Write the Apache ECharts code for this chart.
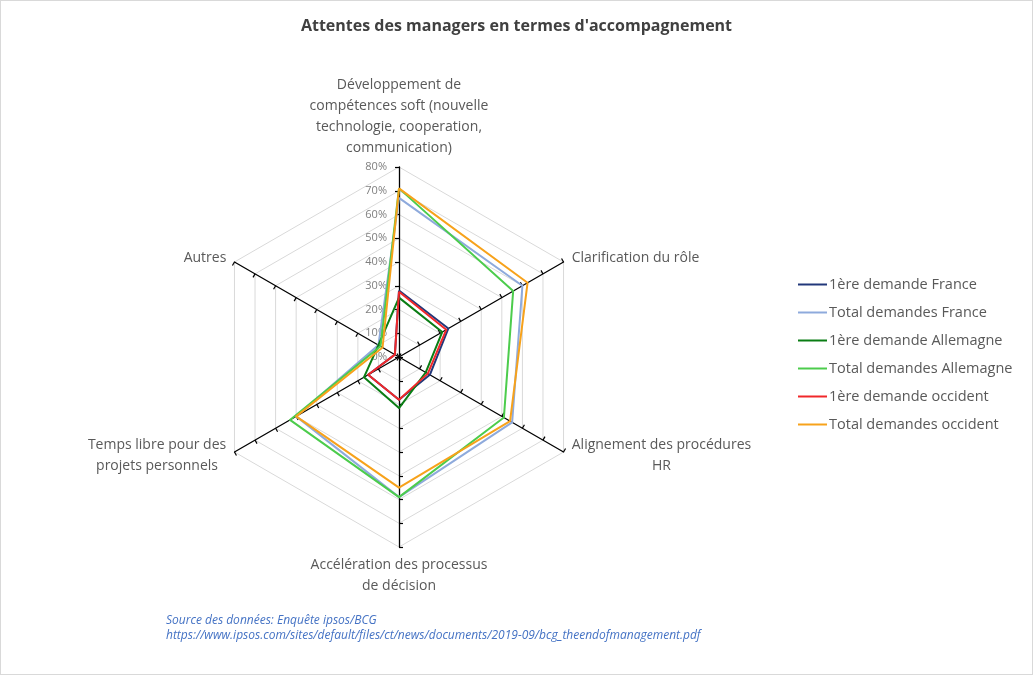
<!DOCTYPE html>
<html>
<head>
<meta charset="utf-8">
<script src="https://cdn.jsdelivr.net/npm/echarts@6/dist/echarts.min.js"></script>
<style>
  html, body { margin: 0; padding: 0; background: #fff; }
  #chart { width: 1031px; height: 673px; border: 1px solid #d9d9d9; }
</style>
</head>
<body>
<div id="chart"></div>
<script>
// axes, in the order echarts lays them out (counter-clockwise from the top)
var categories = [
  "Développement de\ncompétences soft (nouvelle\ntechnologie, cooperation,\ncommunication)",
  "Autres",
  "Temps libre pour des\nprojets personnels",
  "Accélération des processus\nde décision",
  "Alignement des procédures\nHR",
  "Clarification du rôle"
];
var seriesNames = [
  "1ère demande France",
  "Total demandes France",
  "1ère demande Allemagne",
  "Total demandes Allemagne",
  "1ère demande occident",
  "Total demandes occident"
];
var premiereFrance    = [28, 2, 15, 18, 15, 24];
var totalFrance       = [67, 10, 50, 59, 55, 60];
var premiereAllemagne = [25, 10, 17, 21.5, 13, 21];
var totalAllemagne    = [71, 9, 53, 59, 51, 55.5];
var premiereOccident  = [27.5, 2, 15, 18, 14, 23];
var totalOccident     = [71, 8, 50, 55, 54, 62.5];
var maxValue = 80;

var colors = ["#22387a", "#8eaadc", "#0a7d14", "#4ccc4c", "#f0282a", "#f7a21b"];
var values = [premiereFrance, totalFrance, premiereAllemagne, totalAllemagne, premiereOccident, totalOccident];

var FONT = "Open Sans";
var nameStyle = { fontFamily: FONT, fontSize: 14, color: "#595959", lineHeight: 21 };

// measure the widest line of each axis name so that its lines can be centred
var ctx = document.createElement("canvas").getContext("2d");
ctx.font = "14px '" + FONT + "'";
var rich = {};
categories.forEach(function (c, i) {
  var w = 0;
  c.split("\n").forEach(function (l) { w = Math.max(w, ctx.measureText(l).width); });
  rich["c" + i] = Object.assign({ width: Math.ceil(w) + 2, align: "center" }, nameStyle);
});

var chart = echarts.init(document.getElementById("chart"));

var indicators = categories.map(function (c, i) {
  var ind = { name: c, max: maxValue, min: 0 };
  if (i !== 0) ind.axisLabel = { show: false };
  return ind;
});

var option = {
  animation: false,
  title: [
    {
      text: "Attentes des managers en termes d'accompagnement",
      left: "center",
      top: 12,
      textStyle: { fontFamily: FONT, fontSize: 16, fontWeight: "bold", color: "#404040" }
    },
    {
      text: "Source des données: Enquête ipsos/BCG\nhttps://www.ipsos.com/sites/default/files/ct/news/documents/2019-09/bcg_theendofmanagement.pdf",
      left: 160,
      top: 607,
      textStyle: { fontFamily: FONT, fontSize: 12, fontStyle: "italic", fontWeight: "normal", color: "#4472c4", lineHeight: 15 }
    }
  ],
  legend: {
    orient: "vertical",
    left: 792,
    top: 271,
    icon: "rect",
    itemWidth: 29,
    itemHeight: 2,
    itemGap: 13,
    textStyle: { fontFamily: FONT, fontSize: 14.5, color: "#595959", padding: [0, 0, 0, -3] },
    data: seriesNames
  },
  radar: {
    center: [398, 356],
    radius: 190,
    startAngle: 90,
    shape: "polygon",
    splitNumber: 8,
    nameGap: 8,
    axisName: Object.assign({
      formatter: function (name) {
        var i = categories.indexOf(name);
        return name.split("\n").map(function (l) { return "{c" + i + "|" + l + "}"; }).join("\n");
      },
      rich: rich
    }, nameStyle),
    axisLine: { lineStyle: { color: "#000", width: 1.3 } },
    axisTick: { show: true, length: 4, lineStyle: { color: "#000", width: 1.2 } },
    axisLabel: {
      show: true,
      fontFamily: FONT,
      fontSize: 11,
      color: "#7f7f7f",
      margin: 12,
      formatter: function (v) { return v + "%"; }
    },
    splitLine: { lineStyle: { color: "#d9d9d9", width: 1 } },
    splitArea: { show: false },
    indicator: indicators
  },
  series: [
    {
      type: "radar",
      symbol: "none",
      data: values.map(function (v, i) {
        return {
          name: seriesNames[i],
          value: v,
          lineStyle: { color: colors[i], width: 2 },
          itemStyle: { color: colors[i] }
        };
      })
    }
  ]
};

chart.setOption(option);
</script>
</body>
</html>
